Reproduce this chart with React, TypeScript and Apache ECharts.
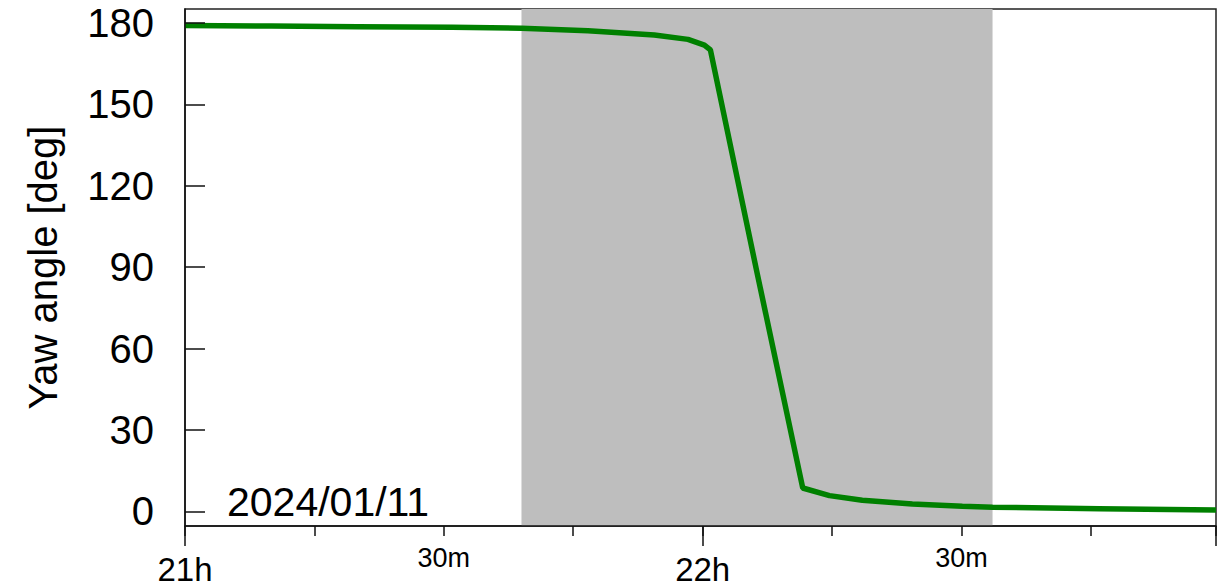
import React, { useEffect, useRef } from "react";
import * as echarts from "echarts";

// minutes after 21:00 (2024/01/11)
const minutesAfter21h = [0, 10, 20, 31, 39, 46.7, 54.4, 58.3, 60.2, 60.9, 66.2, 71.6, 74.7, 78.5, 84.3, 90.1, 93.6, 106, 119.5];
const yawDeg = [179.0, 178.8, 178.6, 178.4, 178.0, 177.1, 175.5, 173.9, 171.8, 170.0, 89.5, 8.6, 5.8, 4.1, 2.7, 1.85, 1.5, 1.0, 0.5];
const shadeStartEnd = [39.0, 93.6];
const yTicks = [0, 30, 60, 90, 120, 150, 180];
const dateLabel = "2024/01/11";
const yName = "Yaw angle [deg]";

const FONT = "'Liberation Sans', Arial, Helvetica, sans-serif";

export default function App() {
  const ref = useRef<HTMLDivElement>(null);
  useEffect(() => {
    if (!ref.current) return;
    const chart = echarts.init(ref.current, undefined, { renderer: "svg" });
    const data = minutesAfter21h.map((m, i) => [m, yawDeg[i]]);
    chart.setOption({
      animation: false,
      backgroundColor: "#ffffff",
      textStyle: { fontFamily: FONT },
      grid: {
        left: 185,
        right: 1,
        top: 9,
        bottom: 60,
        show: true,
        borderColor: "#222",
        borderWidth: 1.5,
        backgroundColor: "transparent",
        containLabel: false,
      },
      xAxis: [
        {
          type: "value",
          min: 0,
          max: 119.5,
          interval: 15,
          position: "bottom",
          z: 5,
          axisLine: { show: true, onZero: false, lineStyle: { color: "#111", width: 1.5 } },
          axisTick: { show: true, inside: false, length: 10, lineStyle: { color: "#111", width: 1.5 } },
          splitLine: { show: false },
          axisLabel: {
            show: true,
            margin: 18,
            fontSize: 27,
            color: "#000",
            fontFamily: FONT,
            formatter: (v: number) => (v % 60 !== 0 && v % 30 === 0 ? "30m" : ""),
          },
        },
        {
          type: "value",
          min: 0,
          max: 119.5,
          interval: 60,
          position: "bottom",
          z: 5,
          axisLine: { show: false, onZero: false },
          axisTick: { show: true, inside: false, length: 20, lineStyle: { color: "#111", width: 1.5 } },
          splitLine: { show: false },
          axisLabel: {
            show: true,
            margin: 27,
            fontSize: 33,
            color: "#000",
            fontFamily: FONT,
            formatter: (v: number) => (v % 60 === 0 ? `${21 + v / 60}h` : ""),
          },
        },
      ],
      yAxis: {
        type: "value",
        min: -5.4,
        max: 185.1,
        z: 5,
        name: yName,
        nameLocation: "middle",
        nameGap: 122,
        nameTextStyle: { fontSize: 40, color: "#000", fontFamily: FONT },
        axisLine: { show: true, onZero: false, lineStyle: { color: "#111", width: 1.5 } },
        axisTick: { show: true, inside: true, length: 20, customValues: yTicks, lineStyle: { color: "#111", width: 1.5 } },
        splitLine: { show: false },
        axisLabel: { show: true, margin: 31, fontSize: 40, color: "#000", fontFamily: FONT, customValues: yTicks },
      },
      graphic: [
        {
          type: "text",
          x: 227,
          y: 501.5,
          z: 10,
          style: { text: dateLabel, font: `41px ${FONT}`, fill: "#000", verticalAlign: "middle", align: "left" },
        },
      ],
      series: [
        {
          type: "line",
          xAxisIndex: 0,
          data,
          showSymbol: false,
          symbol: "none",
          smooth: false,
          lineStyle: { color: "#008000", width: 5.5 },
          z: 3,
          markArea: {
            silent: true,
            itemStyle: { color: "#bebebe", opacity: 1 },
            data: [[{ xAxis: shadeStartEnd[0] }, { xAxis: shadeStartEnd[1] }]],
          },
        },
      ],
    });
    return () => chart.dispose();
  }, []);
  return <div ref={ref} style={{ position: "fixed", left: 0, top: 0, width: 1219, height: 586 }} />;
}
